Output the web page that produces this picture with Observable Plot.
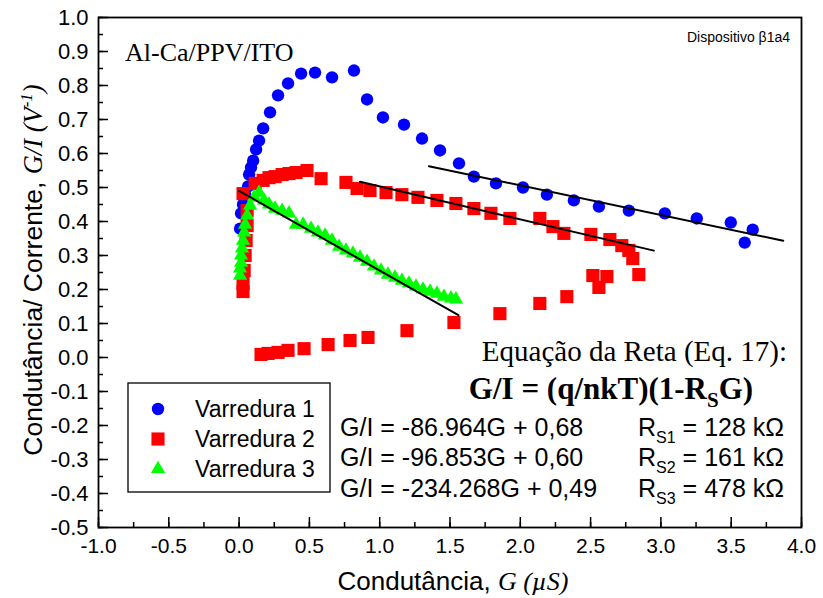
<!DOCTYPE html>
<html><head><meta charset="utf-8">
<script src="https://cdn.jsdelivr.net/npm/d3@7"></script>
<script src="https://cdn.jsdelivr.net/npm/@observablehq/plot@0.6"></script>
<style>body{margin:0;background:#fff} svg{display:block}</style>
</head><body><div id="chart"></div>
<script>
const seriesNames = ["Varredura 1", "Varredura 2", "Varredura 3"];
const seriesColors = ["#0000ff", "#ff0000", "#00ff00"];
const seriesSymbols = ["circle", "square", "triangle"];

// Varredura 1 (G in µS, G/I in 1/V)
const v1G  = [0.007,0.014,0.028,0.043,0.064,0.071,0.085,0.100,0.121,0.142,0.171,0.220,0.277,0.348,0.441,0.540,0.661,0.817,0.910,1.023,1.173,1.301,1.429,1.564,1.670,1.827,2.019,2.189,2.381,2.559,2.772,3.028,3.255,3.497,3.653,3.596];
const v1GI = [0.379,0.424,0.450,0.479,0.503,0.538,0.559,0.579,0.612,0.638,0.674,0.721,0.771,0.806,0.835,0.838,0.824,0.844,0.759,0.706,0.685,0.644,0.609,0.571,0.532,0.512,0.500,0.479,0.462,0.444,0.432,0.424,0.409,0.397,0.376,0.338];

// Varredura 2
const v2G  = [0.028,0.028,0.036,0.043,0.050,0.057,0.057,0.028,0.114,0.171,0.213,0.256,0.306,0.355,0.405,0.483,0.583,0.760,0.839,0.931,1.045,1.158,1.272,1.407,1.542,1.670,1.791,1.926,2.139,2.232,2.310,2.502,2.637,2.722,2.772,2.800,2.843,2.516,2.616,2.559,2.331,2.139,1.855,1.528,1.194,0.917,0.789,0.633,0.462,0.348,0.277,0.206,0.156];
const v2GI = [0.194,0.218,0.256,0.300,0.344,0.388,0.432,0.482,0.512,0.521,0.529,0.532,0.538,0.541,0.544,0.550,0.526,0.515,0.497,0.491,0.485,0.479,0.471,0.462,0.453,0.438,0.424,0.409,0.409,0.385,0.365,0.362,0.347,0.329,0.315,0.291,0.244,0.241,0.238,0.206,0.179,0.159,0.129,0.103,0.079,0.059,0.050,0.038,0.026,0.021,0.015,0.012,0.009];

// Varredura 3
const v3G  = [0.007,0.007,0.014,0.014,0.021,0.028,0.036,0.043,0.057,0.078,0.107,0.142,0.178,0.213,0.256,0.306,0.355,0.405,0.455,0.512,0.561,0.611,0.661,0.711,0.760,0.810,0.860,0.910,0.959,1.009,1.059,1.109,1.158,1.208,1.258,1.308,1.358,1.407,1.457,1.507,1.542];
const v3GI = [0.241,0.262,0.279,0.300,0.321,0.344,0.368,0.391,0.418,0.447,0.471,0.485,0.462,0.450,0.438,0.432,0.424,0.391,0.391,0.379,0.368,0.359,0.344,0.326,0.315,0.306,0.294,0.282,0.268,0.256,0.244,0.235,0.226,0.218,0.209,0.200,0.194,0.188,0.179,0.174,0.171];

// Linear fits: G/I = slope*G + intercept (slope per S, G in µS)
const fitSlopes = [-86.964, -96.853, -234.268];
const fitIntercepts = [0.68, 0.60, 0.49];
const fitStart = [1.35, 0.86, 0.0];
const fitEnd = [3.87, 2.95, 1.56];

const xTicks = [-1.0,-0.5,0.0,0.5,1.0,1.5,2.0,2.5,3.0,3.5,4.0];
const yTicks = [-0.5,-0.4,-0.3,-0.2,-0.1,0.0,0.1,0.2,0.3,0.4,0.5,0.6,0.7,0.8,0.9,1.0];

const seriesG = [v1G, v2G, v3G];
const seriesGI = [v1GI, v2GI, v3GI];
const points = seriesG.flatMap((gs, s) => gs.map((g, i) => ({s, g, gi: seriesGI[s][i]})));
const fits = fitSlopes.flatMap((m, s) => [fitStart[s], fitEnd[s]].map(g => ({s, g, gi: fitIntercepts[s] + m / 1000 * g})));

const xMinor = d3.range(-1, 4.001, 0.25).map(v => +v.toFixed(2));
const yMinor = d3.range(-0.5, 1.001, 0.05).map(v => +v.toFixed(2));
const fmt = d => d.toFixed(1);
const sizes = [6.2, 7.4, 5.3];

const W = 823, H = 598, mL = 98, mR = 22, mT = 17, mB = 71;

const plot = Plot.plot({
  width: W, height: H,
  marginLeft: mL, marginRight: mR, marginTop: mT, marginBottom: mB,
  style: {background: "white", fontFamily: "'Liberation Sans', Arial, sans-serif"},
  x: {domain: [-1, 4], label: null},
  y: {domain: [-0.5, 1.0], label: null},
  marks: [
    Plot.axisX(xMinor, {tickSize: -5, text: null, strokeWidth: 1.5, label: null}),
    Plot.axisX(xTicks, {tickSize: -10, text: null, strokeWidth: 1.5, label: null}),
    Plot.axisX(xTicks, {tickSize: 0, tickPadding: 11, tickFormat: fmt, fontSize: 21, label: null}),
    Plot.axisY(yMinor, {tickSize: -5, text: null, strokeWidth: 1.5, label: null}),
    Plot.axisY(yTicks, {tickSize: -10, text: null, strokeWidth: 1.5, label: null}),
    Plot.axisY(yTicks, {tickSize: 0, tickPadding: 10, tickFormat: fmt, fontSize: 22, label: null}),
    ...[0, 1, 2].map(s => Plot.dot(points.filter(p => p.s === s), {
      x: "g", y: "gi", symbol: () => seriesSymbols[s], fill: seriesColors[s], r: sizes[s], stroke: "none"
    })),
    Plot.line(fits, {x: "g", y: "gi", z: "s", stroke: "black", strokeWidth: 2}),
    Plot.frame({stroke: "black", strokeWidth: 1.8})
  ]
});
document.getElementById("chart").appendChild(plot);

const svg = d3.select(plot);
const sans = "'Liberation Sans', Arial, sans-serif";
const serif = "'Liberation Serif', 'Times New Roman', serif";
function txt(x, y, opts) {
  const t = svg.append("text").attr("x", x).attr("y", y)
    .attr("font-family", opts.family || sans).attr("font-size", opts.size)
    .attr("text-anchor", opts.anchor || "start").attr("fill", "black");
  if (opts.weight) t.attr("font-weight", opts.weight);
  if (opts.transform) t.attr("transform", opts.transform);
  return t;
}
function parts(t, arr) {
  arr.forEach(p => {
    const ts = t.append("tspan").text(p.t);
    if (p.family) ts.attr("font-family", p.family);
    if (p.style) ts.attr("font-style", p.style);
    if (p.size) ts.attr("font-size", p.size);
    if (p.dy) ts.attr("dy", p.dy);
  });
}

// Axis titles
parts(txt(453, 590, {size: 26, anchor: "middle"}), [
  {t: "Condutância, "},
  {t: "G (µS)", family: serif, style: "italic"}
]);
parts(txt(0, 0, {size: 26.5, anchor: "middle", transform: "translate(42,270) rotate(-90)"}), [
  {t: "Condutância/ Corrente, "},
  {t: "G/I (V", family: serif, style: "italic"},
  {t: "-1", family: serif, style: "italic", size: 17, dy: -10},
  {t: ")", family: serif, style: "italic", dy: 10}
]);

// Annotations
parts(txt(125, 61, {size: 26, family: serif}), [{t: "Al-Ca/PPV/ITO"}]);
parts(txt(790, 42, {size: 14, anchor: "end"}), [{t: "Dispositivo β1a4"}]);
parts(txt(787, 361, {size: 29, family: serif, anchor: "end"}), [{t: "Equação da Reta (Eq. 17):"}]);
parts(txt(611, 399, {size: 31, family: serif, anchor: "middle", weight: "bold"}), [
  {t: "G/I = (q/nkT)(1-R"}, {t: "S", size: 21, dy: 8}, {t: "G)", dy: -8}
]);
const eqs = ["G/I = -86.964G + 0,68", "G/I = -96.853G + 0,60", "G/I = -234.268G + 0,49"];
const rs = ["128", "161", "478"];
const rowY = [436, 466, 497];
eqs.forEach((e, i) => {
  parts(txt(340, rowY[i], {size: 25}), [{t: e}]);
  parts(txt(638, rowY[i], {size: 25}), [
    {t: "R"}, {t: "S" + (i + 1), size: 16, dy: 7}, {t: " = " + rs[i] + " kΩ", dy: -7}
  ]);
});

// Legend
const lg = svg.append("g");
lg.append("rect").attr("x", 128).attr("y", 383).attr("width", 202).attr("height", 109)
  .attr("fill", "white").attr("stroke", "black").attr("stroke-width", 1.3);
const legY = [409, 439, 469];
seriesNames.forEach((n, i) => {
  const sym = [d3.symbolCircle, d3.symbolSquare, d3.symbolTriangle][i];
  lg.append("path").attr("d", d3.symbol(sym, Math.PI * sizes[i] * sizes[i])())
    .attr("transform", `translate(158,${legY[i]})`).attr("fill", seriesColors[i]);
  parts(txt(195, legY[i] + 8, {size: 23}), [{t: n}]);
});
</script>
</body></html>
